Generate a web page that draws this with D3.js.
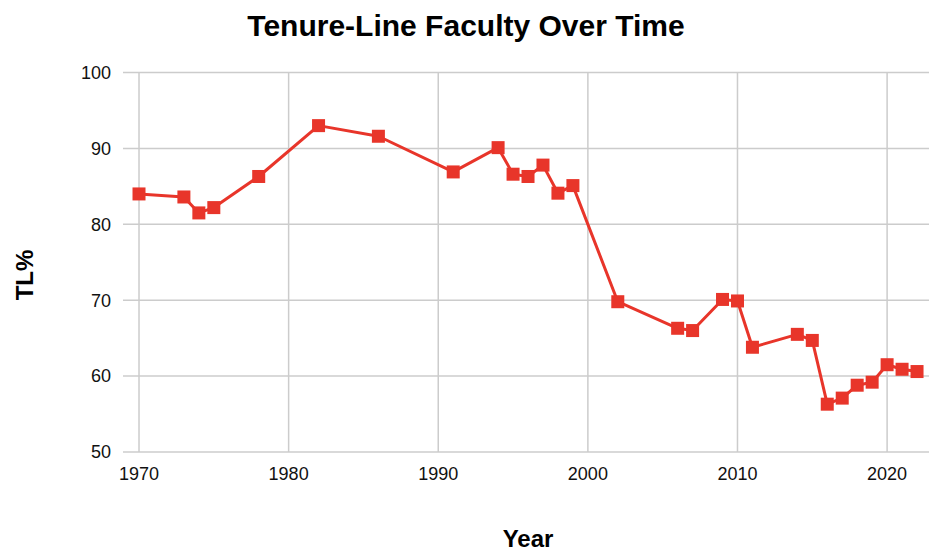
<!doctype html>
<html>
  <head>
    <meta charset="utf-8">
    <script src="https://cdn.jsdelivr.net/npm/d3@7"></script>
    <style>
    body {
      margin: 0;
      background: #fff;
    }

    .chart {
      font-family: 'Liberation Sans', Arial, sans-serif;
    }

    #title {
      font-size: 30px;
      font-weight: 700;
    }

    .axis-title {
      font-size: 24px;
      font-weight: 700;
    }

    .tick-label {
      font-size: 18px;
      fill: #111;
    }
    </style>
  </head>

  <body>
    <svg class="chart"></svg>

  <script>

    // data
    const years = [1970, 1973, 1974, 1975, 1978, 1982, 1986, 1991, 1994, 1995, 1996, 1997, 1998, 1999,
                   2002, 2006, 2007, 2009, 2010, 2011, 2014, 2015, 2016, 2017, 2018, 2019, 2020, 2021, 2022]
    const tlPct = [84.0, 83.6, 81.5, 82.2, 86.3, 93.0, 91.6, 86.9, 90.1, 86.6, 86.3, 87.8, 84.1, 85.1,
                   69.8, 66.3, 66.0, 70.1, 69.9, 63.8, 65.5, 64.7, 56.3, 57.1, 58.8, 59.2, 61.5, 60.9, 60.6]

    const xTicks = [1970, 1980, 1990, 2000, 2010, 2020]
    const yTicks = [50, 60, 70, 80, 90, 100]

    const W = 929, H = 555
    const plot = { left: 123, right: 929, top: 72.5, bottom: 452 }

    const lineRed = "#e8352a"
    const gridGrey = "#cccccc"

    const xScale = d3.scaleLinear()
                     .domain([1968.93, 2022.8])
                     .range([plot.left, plot.right])

    const yScale = d3.scaleLinear()
                     .domain([50, 100])
                     .range([plot.bottom, plot.top])

    let svg = d3.select(".chart")
                .attr("width", W)
                .attr("height", H)

    // gridlines
    svg.append("g")
      .selectAll("line")
      .data(yTicks)
      .enter().append("line")
        .attr("x1", plot.left)
        .attr("x2", plot.right)
        .attr("y1", d => yScale(d))
        .attr("y2", d => yScale(d))
        .attr("stroke", gridGrey)
        .attr("stroke-width", 1.5)

    svg.append("g")
      .selectAll("line")
      .data(xTicks)
      .enter().append("line")
        .attr("x1", d => xScale(d))
        .attr("x2", d => xScale(d))
        .attr("y1", plot.top)
        .attr("y2", plot.bottom)
        .attr("stroke", gridGrey)
        .attr("stroke-width", 1.5)

    // tick labels
    svg.append("g")
      .selectAll("text")
      .data(yTicks)
      .enter().append("text")
        .attr("class", "tick-label")
        .attr("x", 111)
        .attr("y", d => yScale(d))
        .attr("dy", "0.35em")
        .attr("text-anchor", "end")
        .text(d => d)

    svg.append("g")
      .selectAll("text")
      .data(xTicks)
      .enter().append("text")
        .attr("class", "tick-label")
        .attr("x", d => xScale(d))
        .attr("y", 480)
        .attr("text-anchor", "middle")
        .text(d => d)

    // series
    const points = years.map((y, i) => ({ year: y, value: tlPct[i] }))

    const line = d3.line()
                   .x(d => xScale(d.year))
                   .y(d => yScale(d.value))

    svg.append("path")
      .datum(points)
      .attr("d", line)
      .attr("fill", "none")
      .attr("stroke", lineRed)
      .attr("stroke-width", 3)
      .attr("stroke-linejoin", "round")

    const sq = 13
    svg.append("g")
      .selectAll("rect")
      .data(points)
      .enter().append("rect")
        .attr("x", d => xScale(d.year) - sq / 2)
        .attr("y", d => yScale(d.value) - sq / 2)
        .attr("width", sq)
        .attr("height", sq)
        .attr("fill", lineRed)

    // titles
    svg.append("text")
      .attr("id", "title")
      .attr("x", 466)
      .attr("y", 36)
      .attr("text-anchor", "middle")
      .text("Tenure-Line Faculty Over Time")

    svg.append("text")
      .attr("class", "axis-title")
      .attr("x", 528)
      .attr("y", 547)
      .attr("text-anchor", "middle")
      .text("Year")

    svg.append("text")
      .attr("class", "axis-title")
      .attr("transform", "translate(33,275) rotate(-90)")
      .attr("text-anchor", "middle")
      .text("TL%")

  </script>
  </body>
</html>
